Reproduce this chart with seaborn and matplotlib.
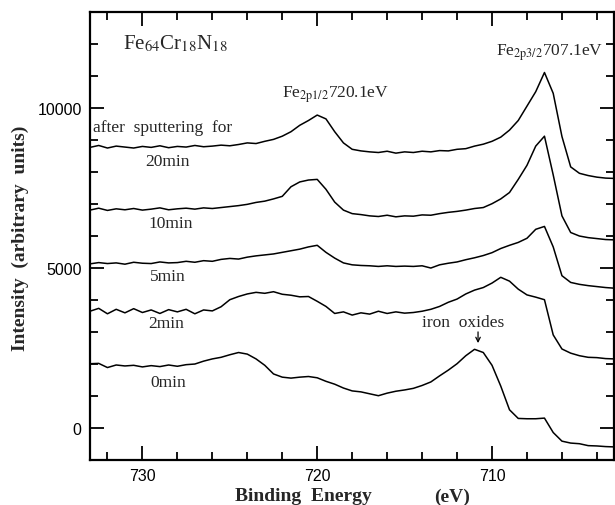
import numpy as np
import pandas as pd
import matplotlib
matplotlib.use('Agg')
import matplotlib.pyplot as plt
from matplotlib.ticker import MultipleLocator
import seaborn as sns

# --- data (binding energy in eV, 733 -> 703, 0.5 eV step) ---
energy = np.arange(733.0, 702.9, -0.5)

int_20min = [8760, 8820, 8740, 8800, 8770, 8740, 8790, 8760, 8810, 8750,
             8790, 8770, 8820, 8780, 8800, 8830, 8810, 8850, 8900, 8880,
             8950, 9010, 9110, 9250, 9450, 9600, 9770, 9650, 9250, 8900,
             8700, 8650, 8620, 8600, 8640, 8580, 8620, 8600, 8640, 8620,
             8660, 8650, 8700, 8720, 8800, 8860, 8950, 9080, 9300, 9600,
             10050, 10500, 11100, 10450, 9100, 8150, 7950, 7880, 7830, 7800,
             7790]
int_10min = [6800, 6860, 6790, 6840, 6810, 6850, 6800, 6830, 6870, 6810,
             6840, 6860, 6830, 6870, 6850, 6880, 6910, 6940, 6980, 7040,
             7080, 7150, 7230, 7530, 7680, 7740, 7760, 7450, 7050, 6800,
             6690, 6660, 6620, 6600, 6640, 6590, 6620, 6610, 6650, 6640,
             6690, 6730, 6760, 6800, 6850, 6880, 7000, 7150, 7350, 7760,
             8200, 8800, 9110, 7900, 6620, 6100, 5990, 5940, 5910, 5880,
             5870]
int_5min = [5120, 5160, 5130, 5150, 5110, 5170, 5140, 5130, 5180, 5150,
            5160, 5200, 5170, 5220, 5200, 5260, 5290, 5270, 5330, 5370,
            5400, 5430, 5480, 5530, 5580, 5650, 5700, 5480, 5300, 5150,
            5090, 5070, 5060, 5040, 5060, 5040, 5050, 5040, 5060, 4990,
            5090, 5140, 5180, 5250, 5310, 5380, 5470, 5600, 5700, 5790,
            5920, 6200, 6290, 5650, 4750, 4540, 4480, 4440, 4410, 4380,
            4360]
int_2min = [3640, 3730, 3560, 3700, 3590, 3720, 3600, 3680, 3570, 3690,
            3620, 3700, 3560, 3680, 3650, 3780, 4000, 4100, 4180, 4230,
            4200, 4250, 4170, 4140, 4090, 4100, 3950, 3790, 3570, 3620,
            3520, 3590, 3550, 3640, 3570, 3620, 3580, 3600, 3640, 3700,
            3790, 3920, 4020, 4180, 4300, 4380, 4520, 4700, 4580, 4330,
            4150, 4080, 4000, 2900, 2460, 2330, 2250, 2200, 2190, 2160,
            2150]
int_0min = [2000, 2010, 1880, 1960, 1930, 1950, 1900, 1940, 1910, 1960,
            1920, 1970, 1990, 2080, 2150, 2200, 2280, 2350, 2300, 2150,
            1950, 1680, 1580, 1550, 1580, 1600, 1560, 1450, 1360, 1240,
            1150, 1120, 1060, 1000, 1080, 1140, 1180, 1230, 1320, 1430,
            1620, 1800, 2000, 2250, 2450, 2350, 1950, 1300, 560, 290,
            280, 280, 300, -150, -420, -480, -500, -560, -570, -590,
            -600]

times = ['20min', '10min', '5min', '2min', '0min']
series = [int_20min, int_10min, int_5min, int_2min, int_0min]

df = pd.concat([pd.DataFrame({'energy': energy, 'intensity': s, 'time': t})
                for t, s in zip(times, series)], ignore_index=True)

# --- style ---
sns.set_style('ticks')
plt.rcParams['font.family'] = ['Liberation Serif', 'DejaVu Serif']
plt.rcParams['mathtext.fontset'] = 'stix'

fig = plt.figure(figsize=(6.15, 5.06), dpi=100)
ax = fig.add_axes([0.1463, 0.0895, 0.8527, 0.8854])

for t in times:
    sns.lineplot(data=df[df['time'] == t], x='energy', y='intensity',
                 color='black', lw=1.1, ax=ax, legend=False)

ax.set_xlim(733, 703)
ax.set_ylim(-1000, 13000)
ax.xaxis.set_major_locator(MultipleLocator(10))
ax.xaxis.set_minor_locator(MultipleLocator(2))
ax.yaxis.set_major_locator(MultipleLocator(5000))
ax.yaxis.set_minor_locator(MultipleLocator(1000))
ax.tick_params(which='both', direction='in', top=True, right=True, width=1.3,
               colors='black')
ax.tick_params(which='major', length=10, pad=6)
ax.tick_params(which='minor', length=6)
for lab in ax.get_xticklabels() + ax.get_yticklabels():
    lab.set_family('Liberation Sans')
    lab.set_fontsize(11.5)
for sp in ax.spines.values():
    sp.set_linewidth(1.6)
    sp.set_color('black')

ax.set_xlabel('')
ax.set_ylabel('')
fig.text(235 / 615, 1 - 497 / 506, 'Binding  Energy', fontsize=14,
         fontweight='bold', ha='left', va='center')
fig.text(470 / 615, 1 - 497 / 506, '(eV)', fontsize=14,
         fontweight='bold', ha='right', va='center')
fig.text(20 / 615, 1 - 238 / 506, 'Intensity  (arbitrary  units)', fontsize=14,
         fontweight='bold', rotation=90, ha='center', va='center')

# annotations
ax.text(731.1, 12035, r'Fe$_{64}$Cr$_{18}$N$_{18}$', fontsize=15,
        ha='left', va='center')
ax.text(722.0, 10445, r'Fe$_{\mathrm{2p1/2}}$720.1eV', fontsize=12.5,
        ha='left', va='center')
ax.text(709.8, 11755, r'Fe$_{\mathrm{2p3/2}}$707.1eV', fontsize=12.5,
        ha='left', va='center')
ax.text(732.85, 9385, 'after  sputtering  for', fontsize=12.5,
        ha='left', va='center')
label_pos = {'20min': (729.85, 8325), '10min': (729.68, 6392),
             '5min': (729.57, 4739), '2min': (729.68, 3274),
             '0min': (729.57, 1434)}
for t, (x, y) in label_pos.items():
    ax.text(x, y, t, fontsize=12.5, ha='left', va='center')
ax.text(714.0, 3305, 'iron  oxides', fontsize=12.5, ha='left', va='center')
ax.annotate('', xy=(710.8, 2557), xytext=(710.8, 3080),
            arrowprops=dict(arrowstyle='->', color='black', lw=0.9,
                            mutation_scale=8))

fig.savefig('out.png', dpi=100)
